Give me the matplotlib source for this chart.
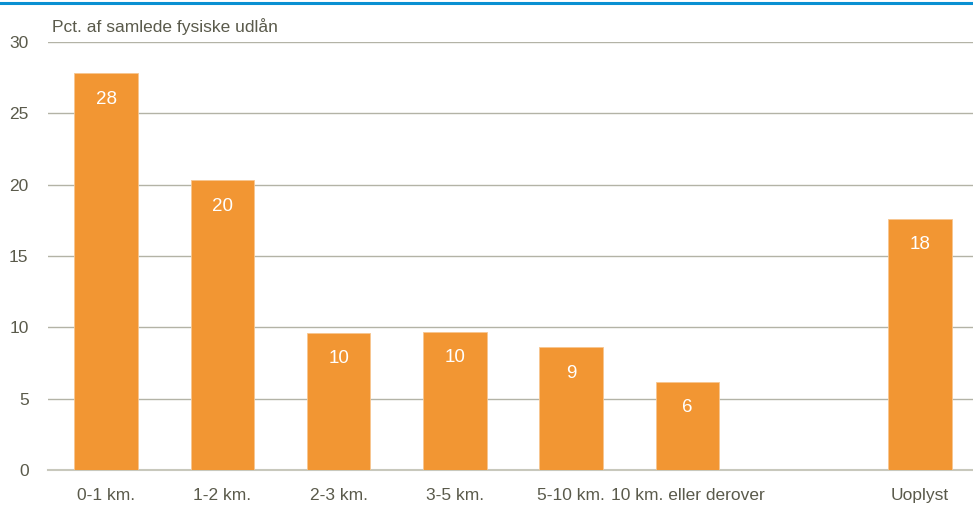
import matplotlib
matplotlib.use('Agg')
import matplotlib.pyplot as plt

plt.rcParams['font.family'] = ['Liberation Sans', 'DejaVu Sans']

categories = ['0-1 km.', '1-2 km.', '2-3 km.', '3-5 km.', '5-10 km.',
              '10 km. eller derover', '', 'Uoplyst']
values = [27.8, 20.3, 9.6, 9.7, 8.6, 6.2, None, 17.6]
labels = ['28', '20', '10', '10', '9', '6', '', '18']

bar_color = '#f29633'
text_color = '#5a5a4b'
grid_color = '#b3b3a6'

fig = plt.figure(figsize=(9.73, 5.05), dpi=100)
# axes runs a bit past the right edge, like the original
ax = fig.add_axes([48 / 973, 35 / 505, 930 / 973, 428 / 505])

# blue line at the top
fig.add_artist(plt.Line2D([0, 1], [1 - 3 / 505, 1 - 3 / 505], color='#0a90d2', lw=2.2))

xs = list(range(len(categories)))
for x, v, lab in zip(xs, values, labels):
    if v is None:
        continue
    ax.bar(x, v, width=0.545, color=bar_color, edgecolor='#f7c690', linewidth=0.6, zorder=3)
    ax.annotate(lab, (x, v), xytext=(0, -18.5), textcoords='offset points',
                ha='center', va='center', color='white', fontsize=13.5, zorder=4)

ax.set_xlim(-0.5, len(categories) - 0.5)
ax.set_ylim(0, 30)
ax.set_yticks(range(0, 31, 5))
ax.set_xticks(xs)
ax.set_xticklabels(categories)
ax.tick_params(axis='both', length=0, labelsize=12.5, colors=text_color)
ax.tick_params(axis='y', pad=14)
ax.tick_params(axis='x', pad=13)
ax.yaxis.grid(True, color=grid_color, lw=1, zorder=0)
for s in ['top', 'right', 'left']:
    ax.spines[s].set_visible(False)
ax.spines['bottom'].set_color('#c8c8bc')
ax.spines['bottom'].set_linewidth(1.5)

fig.text(52 / 973, 1 - 27 / 505, 'Pct. af samlede fysiske udlån', fontsize=12.5,
         color=text_color, va='center', ha='left')

fig.savefig('out.png', dpi=100)
